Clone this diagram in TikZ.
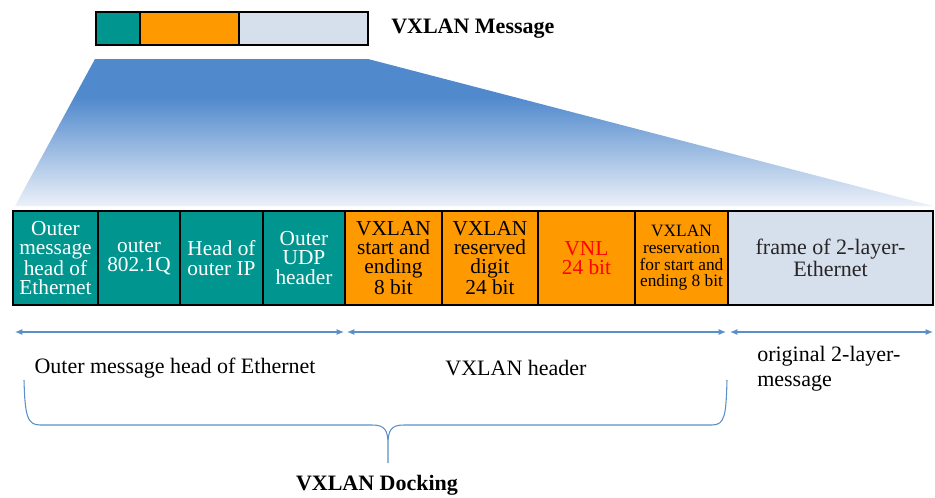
\documentclass[tikz,border=0pt]{standalone}
\usepackage{fontspec}
\setmainfont{LiberationSerif}[Extension=.ttf, UprightFont=*-Regular, BoldFont=*-Bold, ItalicFont=*-Italic, BoldItalicFont=*-BoldItalic]
\usepackage{xcolor}
\usepackage{tikz}
\usetikzlibrary{shapes,arrows.meta,positioning}

\definecolor{vxteal}{RGB}{0,150,143}
\definecolor{vxorange}{RGB}{255,153,0}
\definecolor{vxgrey}{RGB}{214,223,236}
\definecolor{vxblue}{RGB}{80,137,204}
\definecolor{vxpale}{RGB}{236,241,249}
\definecolor{vxline}{RGB}{91,143,201}

\pgfdeclareverticalshading{vxfade}{100bp}{color(0bp)=(vxpale); color(25bp)=(vxpale); color(62bp)=(vxblue); color(100bp)=(vxblue)}

\tikzset{
    field/.style={draw=black, line width=1.5pt, minimum height=70.5pt,
        inner sep=0pt, outer sep=0pt, align=center,
        font=\fontsize{16}{14.5}\selectfont},
    tealfield/.style={field, fill=vxteal, text=white},
    orangefield/.style={field, fill=vxorange, text=black},
    greyfield/.style={field, fill=vxgrey, text=black!85},
    minifield/.style={draw=black, line width=1.5pt, minimum height=24.75pt,
        inner sep=0pt, outer sep=0pt},
    spanline/.style={vxline, line width=0.8pt,
        {Latex[length=5.5pt,width=4.5pt]}-{Latex[length=5.5pt,width=4.5pt]}},
    spantext/.style={inner sep=0pt, font=\fontsize{16.5}{19}\selectfont}
}

\begin{document}
\begin{tikzpicture}[x=0.75pt, y=-0.75pt, node distance=0pt]
    \useasboundingbox (0,0) rectangle (935,497);

    % fading wedge
    \shade[shading=vxfade] (95,59) -- (368,59) -- (933,206) -- (15,206) -- cycle;

    % small message
    \node[minifield, fill=vxteal, minimum width=33pt, anchor=north west] (m1) at (96,12) {};
    \node[minifield, fill=vxorange, minimum width=74.25pt, right=of m1] (m2) {};
    \node[minifield, fill=vxgrey, minimum width=96.75pt, right=of m2] (m3) {};
    \node[inner sep=0pt, anchor=west, font=\bfseries\fontsize{16.5}{18}\selectfont] (msg) at (391,29) {VXLAN Message};

    % header fields
    \node[tealfield, minimum width=63.75pt, anchor=north west] (f1) at (13,211) {Outer\\message\\head of\\Ethernet};
    \node[tealfield, minimum width=61.5pt, right=of f1] (f2) {outer\\802.1Q};
    \node[tealfield, minimum width=62.25pt, right=of f2] (f3) {Head of\\outer IP};
    \node[tealfield, minimum width=61.5pt, right=of f3] (f4) {Outer\\UDP\\header};
    \node[orangefield, minimum width=72.75pt, right=of f4] (f5) {VXLAN\\start and\\ending\\8 bit};
    \node[orangefield, minimum width=72pt, right=of f5] (f6) {VXLAN\\reserved\\digit\\24 bit};
    \node[orangefield, minimum width=72.75pt, text=red, right=of f6] (f7) {VNL\\24 bit};
    \node[orangefield, minimum width=69.75pt, font=\fontsize{13}{12.5}\selectfont, right=of f7] (f8) {VXLAN\\reservation\\for start and\\ending 8 bit};
    \node[greyfield, minimum width=153.75pt, font=\fontsize{16.5}{16}\selectfont, right=of f8] (f9) {frame of 2-layer-\\Ethernet};

    % spans
    \coordinate (s0) at (15,332);
    \coordinate (s1a) at (344,332);
    \coordinate (s1b) at (347,332);
    \coordinate (s2a) at (726,332);
    \coordinate (s2b) at (730,332);
    \coordinate (s3) at (933,332);
    \draw[spanline] (s0) -- (s1a);
    \draw[spanline] (s1b) -- (s2a);
    \draw[spanline] (s2b) -- (s3);

    \node[spantext] (outer) at (175,368) {Outer message head of Ethernet};
    \node[spantext] (vxhead) at (516,368) {VXLAN header};
    \node[spantext, align=left, anchor=north west] (orig) at (757,346) {original 2-layer-\\message};

    % brace
    \coordinate (bl) at (24,380);
    \coordinate (br) at (727,380);
    \coordinate (tip) at (388,463);
    \draw[vxline, line width=0.8pt] (bl) .. controls (25,415) and (27,425) .. (40,425) -- (372,425)
        .. controls (385,425) and (388,430) .. (388,445) -- (tip) -- (388,445)
        .. controls (388,430) and (391,425) .. (404,425) -- (712,425)
        .. controls (725,425) and (726,415) .. (br);

    \node[inner sep=0pt, font=\bfseries\fontsize{16.5}{18}\selectfont] (dock) at (377,485) {VXLAN Docking};
\end{tikzpicture}
\end{document}
